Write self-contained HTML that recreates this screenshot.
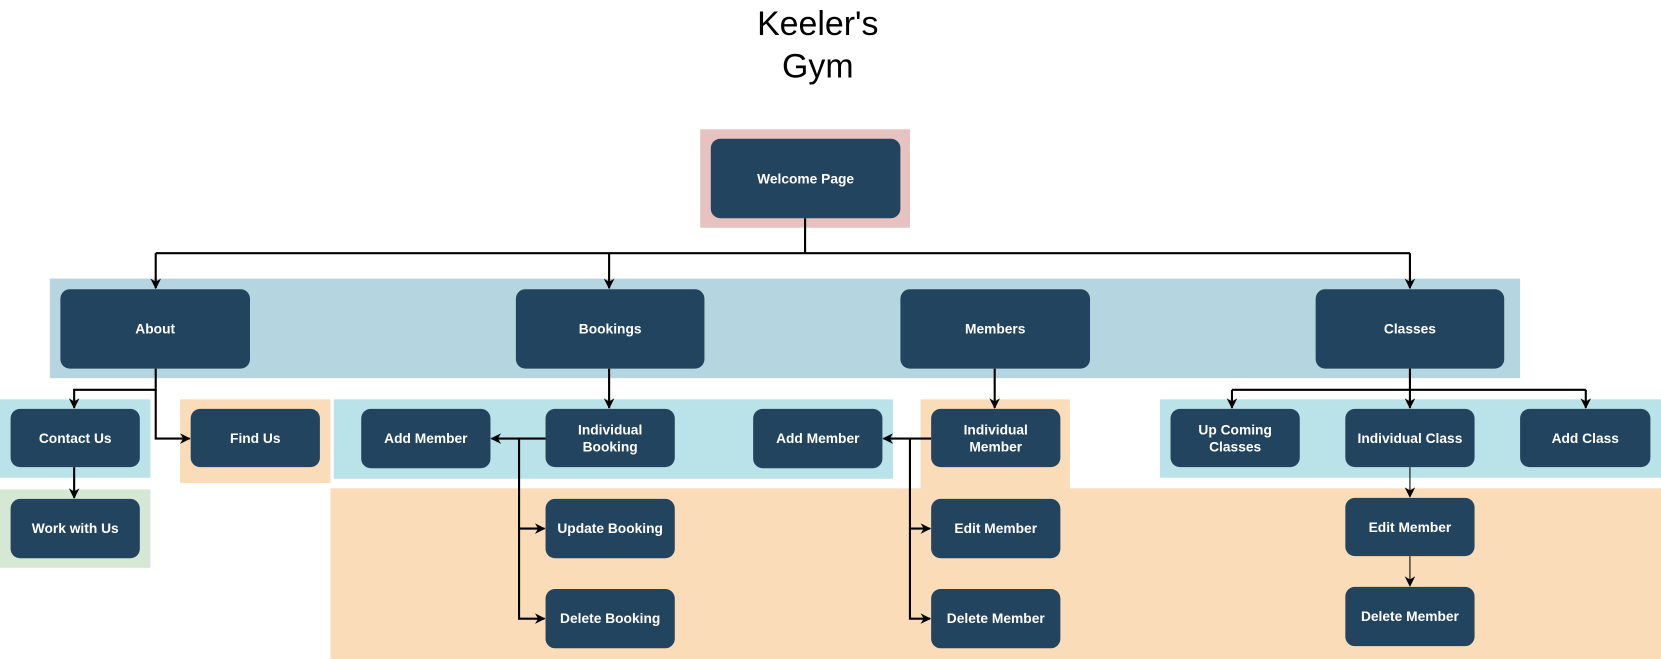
<!DOCTYPE html>
<html><head><meta charset="utf-8"><style>
html,body{margin:0;padding:0;background:#fff;width:1661px;height:659px;overflow:hidden}
#w{position:absolute;left:0;top:0;width:1568px;height:622px;transform:scale(1.05931);transform-origin:0 0}
.bg{position:absolute}
.b{position:absolute;background:#23445e;border-radius:9px;color:#fff;font:bold 13px "Liberation Sans",sans-serif;display:flex;align-items:center;justify-content:center;text-align:center;line-height:16px}
.t{position:absolute;left:672px;width:200px;text-align:center;font:32px "Liberation Sans",sans-serif;color:#000;line-height:40px;top:2px}
svg{position:absolute;left:0;top:0}
</style></head><body><div id="w">
<div class="t">Keeler's<br>Gym</div>
<div class="bg" style="left:661px;top:122px;width:198px;height:93px;background:#e6c3c0"></div>
<div class="bg" style="left:47px;top:263px;width:1388px;height:94px;background:#b5d5e0"></div>
<div class="bg" style="left:0;top:377px;width:142px;height:74px;background:#b9e3e8"></div>
<div class="bg" style="left:0;top:462px;width:142px;height:74px;background:#d5e8d4"></div>
<div class="bg" style="left:170px;top:377px;width:142px;height:79px;background:#fadcb9"></div>
<div class="bg" style="left:315px;top:377px;width:528px;height:75px;background:#b9e3e8"></div>
<div class="bg" style="left:869px;top:377px;width:141px;height:85px;background:#fadcb9"></div>
<div class="bg" style="left:312px;top:461px;width:1256px;height:161px;background:#fadcb9"></div>
<div class="bg" style="left:1095px;top:377px;width:473px;height:74px;background:#b9e3e8"></div>
<svg width="1568" height="622">
<defs><marker id="a" markerWidth="10" markerHeight="10" refX="9" refY="5" orient="auto" markerUnits="userSpaceOnUse"><path d="M0,0 L10,5 L0,10 L3,5 z" fill="#000"/></marker></defs>
<g stroke="#000" stroke-width="2" fill="none">
<path d="M760,206 V239 M147,239 H1331"/>
<path d="M147,239 V272" marker-end="url(#a)"/>
<path d="M575,239 V272" marker-end="url(#a)"/>
<path d="M1331,239 V272" marker-end="url(#a)"/>
<path d="M147,348 V368 H70 V385" marker-end="url(#a)"/>
<path d="M147,368 V414 H179" marker-end="url(#a)"/>
<path d="M70,441 V470" marker-end="url(#a)"/>
<path d="M575,348 V385" marker-end="url(#a)"/>
<path d="M515,414 H464" marker-end="url(#a)"/>
<path d="M490,414 V499 H514" marker-end="url(#a)"/>
<path d="M490,499 V584 H514" marker-end="url(#a)"/>
<path d="M939,348 V385" marker-end="url(#a)"/>
<path d="M879,414 H834" marker-end="url(#a)"/>
<path d="M859,414 V499 H878" marker-end="url(#a)"/>
<path d="M859,499 V584 H878" marker-end="url(#a)"/>
<path d="M1331,348 V368 M1163,368 H1497"/>
<path d="M1163,368 V385" marker-end="url(#a)"/>
<path d="M1331,368 V385" marker-end="url(#a)"/>
<path d="M1497,368 V385" marker-end="url(#a)"/>
</g>
<g stroke="#000" stroke-width="1" fill="none">
<path d="M1331,441 V469" marker-end="url(#a)"/>
<path d="M1331,525 V553" marker-end="url(#a)"/>
</g>
</svg>
<div class="b" style="left:671px;top:131px;width:179px;height:75px">Welcome Page</div>
<div class="b" style="left:57px;top:273px;width:179px;height:75px">About</div>
<div class="b" style="left:487px;top:273px;width:178px;height:75px">Bookings</div>
<div class="b" style="left:850px;top:273px;width:179px;height:75px">Members</div>
<div class="b" style="left:1242px;top:273px;width:178px;height:75px">Classes</div>
<div class="b" style="left:10px;top:386px;width:122px;height:55px">Contact Us</div>
<div class="b" style="left:10px;top:471px;width:122px;height:56px">Work with Us</div>
<div class="b" style="left:180px;top:386px;width:122px;height:55px">Find Us</div>
<div class="b" style="left:341px;top:386px;width:122px;height:56px">Add Member</div>
<div class="b" style="left:515px;top:386px;width:122px;height:55px">Individual<br>Booking</div>
<div class="b" style="left:711px;top:386px;width:122px;height:56px">Add Member</div>
<div class="b" style="left:879px;top:386px;width:122px;height:55px">Individual<br>Member</div>
<div class="b" style="left:1105px;top:386px;width:122px;height:55px">Up Coming<br>Classes</div>
<div class="b" style="left:1270px;top:386px;width:122px;height:55px">Individual Class</div>
<div class="b" style="left:1435px;top:386px;width:123px;height:55px">Add Class</div>
<div class="b" style="left:515px;top:471px;width:122px;height:56px">Update Booking</div>
<div class="b" style="left:515px;top:556px;width:122px;height:56px">Delete Booking</div>
<div class="b" style="left:879px;top:471px;width:122px;height:56px">Edit Member</div>
<div class="b" style="left:879px;top:556px;width:122px;height:56px">Delete Member</div>
<div class="b" style="left:1270px;top:470px;width:122px;height:55px">Edit Member</div>
<div class="b" style="left:1270px;top:554px;width:122px;height:56px">Delete Member</div>
</div></body></html>
